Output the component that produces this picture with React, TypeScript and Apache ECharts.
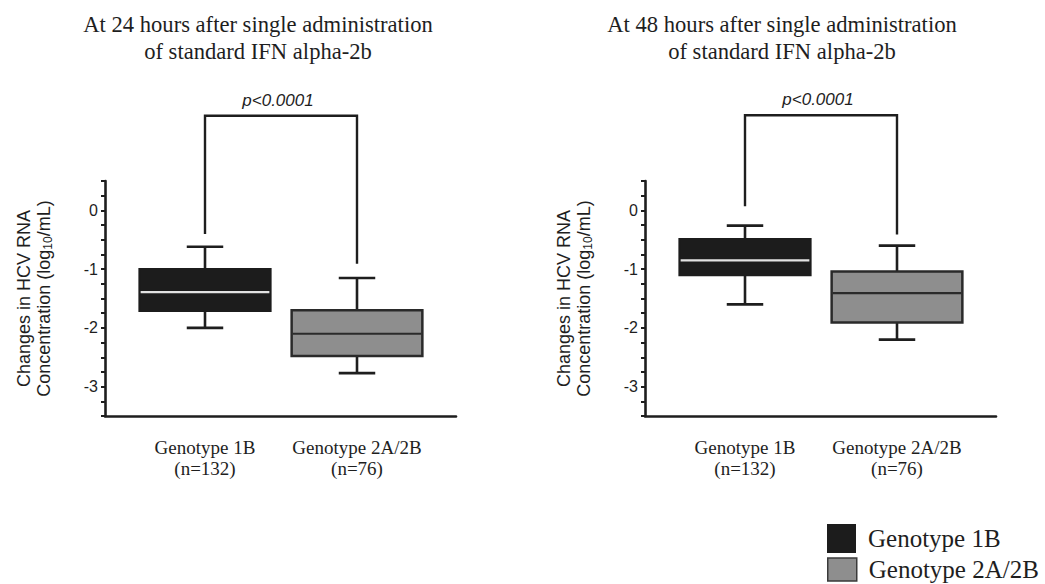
import React, { useEffect, useRef } from "react";
import * as echarts from "echarts";

// ---- data ----
const categories = ["Genotype 1B\n(n=132)", "Genotype 2A/2B\n(n=76)"];
const seriesNames = ["Genotype 1B", "Genotype 2A/2B"];
const titles = [
  "At 24 hours after single administration\nof standard IFN alpha-2b",
  "At 48 hours after single administration\nof standard IFN alpha-2b",
];
// [min, Q1, median, Q3, max]
const h24Genotype1B = [-2.0, -1.71, -1.39, -1.0, -0.62];
const h24Genotype2A2B = [-2.77, -2.48, -2.1, -1.7, -1.15];
const h48Genotype1B = [-1.6, -1.1, -0.85, -0.49, -0.26];
const h48Genotype2A2B = [-2.2, -1.91, -1.41, -1.04, -0.6];
// [left leg end, right leg end, bracket top]
const bracket24 = [-0.4, -0.91, 1.61];
const bracket48 = [0.07, -0.41, 1.62];
const pLabel = "p<0.0001";
const yMin = -3.5;
const yMax = 0.5;
const yStep = 0.25;

const SERIF = "'Liberation Serif', 'DejaVu Serif', serif";
const SANS = "'Liberation Sans', Arial, sans-serif";
const INK = "#1e1e1e";
const DARK = "#1c1c1c";
const GRAY = "#8e8e8e";

const renderBox = (fill: string, edge: string, medianColor: string) =>
  (params: any, api: any) => {
    const x = api.value(0);
    const v = [1, 2, 3, 4, 5].map((i) => api.value(i));
    const pMin = api.coord([x, v[0]]);
    const pQ1 = api.coord([x, v[1]]);
    const pMed = api.coord([x, v[2]]);
    const pQ3 = api.coord([x, v[3]]);
    const pMax = api.coord([x, v[4]]);
    const band = api.size([1, 0])[0];
    const bw = band * 0.86;
    const cw = band * 0.24;
    const cx = pMin[0];
    const ws = { stroke: INK, lineWidth: 2.6 };
    return {
      type: "group",
      children: [
        { type: "line", shape: { x1: cx, y1: pMax[1], x2: cx, y2: pQ3[1] }, style: ws },
        { type: "line", shape: { x1: cx, y1: pQ1[1], x2: cx, y2: pMin[1] }, style: ws },
        { type: "line", shape: { x1: cx - cw / 2, y1: pMax[1], x2: cx + cw / 2, y2: pMax[1] }, style: ws },
        { type: "line", shape: { x1: cx - cw / 2, y1: pMin[1], x2: cx + cw / 2, y2: pMin[1] }, style: ws },
        {
          type: "rect",
          shape: { x: cx - bw / 2, y: pQ3[1], width: bw, height: pQ1[1] - pQ3[1] },
          style: { fill, stroke: edge, lineWidth: 2.5 },
        },
        {
          type: "line",
          shape: { x1: cx - bw / 2 + 1, y1: pMed[1], x2: cx + bw / 2 - 1, y2: pMed[1] },
          style: { stroke: medianColor, lineWidth: 2.2 },
        },
      ],
    };
  };

const renderBracket = (params: any, api: any) => {
  const pL = api.coord([api.value(0), api.value(2)]);
  const pR = api.coord([api.value(1), api.value(3)]);
  const pT = api.coord([api.value(0), api.value(4)]);
  const top = pT[1];
  return {
    type: "group",
    children: [
      {
        type: "polyline",
        shape: { points: [[pL[0], pL[1]], [pL[0], top], [pR[0], top], [pR[0], pR[1]]] },
        style: { stroke: INK, lineWidth: 2.4, fill: "none" },
      },
      {
        type: "text",
        x: (pL[0] + pR[0]) / 2 - 3,
        y: top - 7,
        style: {
          text: pLabel,
          fontSize: 17,
          fontStyle: "italic",
          fontFamily: SANS,
          fill: INK,
          align: "center",
          verticalAlign: "bottom",
        },
      },
    ],
  };
};

export default function App() {
  const ref = useRef<HTMLDivElement>(null);
  useEffect(() => {
    if (!ref.current) return;
    const chart = echarts.init(ref.current, null, { renderer: "svg" });

    const panels = [
      { axisLeft: 105, innerLeft: 129, titleX: 258, stats: [h24Genotype1B, h24Genotype2A2B], bracket: bracket24 },
      { axisLeft: 645, innerLeft: 669, titleX: 782, stats: [h48Genotype1B, h48Genotype2A2B], bracket: bracket48 },
    ];
    const gridTop = 181;
    const gridHeight = 235;

    const grid: any[] = [];
    const xAxis: any[] = [];
    const yAxis: any[] = [];
    const series: any[] = [];
    const title: any[] = [];

    panels.forEach((p, i) => {
      const gFrame = grid.length;
      grid.push({ left: p.axisLeft, top: gridTop, width: 351, height: gridHeight });
      const gInner = grid.length;
      grid.push({ left: p.innerLeft, top: gridTop, width: 304, height: gridHeight });

      title.push({
        text: titles[i],
        left: p.titleX,
        top: 11,
        textAlign: "center",
        padding: 0,
        textStyle: { fontFamily: SERIF, fontSize: 22.6, fontWeight: "normal", color: INK, lineHeight: 27 },
      });

      // frame axes
      xAxis.push({
        type: "value",
        gridIndex: gFrame,
        min: 0,
        max: 1,
        axisLine: { show: true, onZero: false, lineStyle: { color: INK, width: 2.6 } },
        axisTick: { show: false },
        axisLabel: { show: false },
        splitLine: { show: false },
      });
      yAxis.push({
        type: "value",
        gridIndex: gFrame,
        min: yMin,
        max: yMax,
        interval: yStep,
        name: "Changes in HCV RNA\nConcentration (log{s|10}/mL)",
        nameLocation: "middle",
        nameGap: 51,
        nameTextStyle: {
          fontFamily: SANS,
          fontSize: 18,
          lineHeight: 20,
          color: INK,
          rich: { s: { fontSize: 12, fontFamily: SANS, color: INK, verticalAlign: "bottom", lineHeight: 14 } },
        },
        axisLine: { show: true, onZero: false, lineStyle: { color: INK, width: 2.6 } },
        axisTick: { show: true, length: 4, interval: 0, lineStyle: { color: INK, width: 2 } },
        axisLabel: {
          interval: 0,
          margin: 7,
          fontFamily: SANS,
          fontSize: 16,
          color: INK,
          formatter: (v: number) => (Number.isInteger(v) && v <= 0 ? String(v) : ""),
        },
        splitLine: { show: false },
      });

      // inner axes (category positions)
      const xi = xAxis.length;
      xAxis.push({
        type: "category",
        gridIndex: gInner,
        data: categories,
        axisLine: { show: false },
        axisTick: { show: false },
        axisLabel: {
          interval: 0,
          margin: 21,
          fontFamily: SERIF,
          fontSize: 19,
          lineHeight: 21,
          color: INK,
        },
        splitLine: { show: false },
      });
      const yi = yAxis.length;
      yAxis.push({
        type: "value",
        gridIndex: gInner,
        min: yMin,
        max: yMax,
        interval: yStep,
        show: false,
        splitLine: { show: false },
      });

      p.stats.forEach((s, k) => {
        series.push({
          type: "custom",
          name: seriesNames[k],
          xAxisIndex: xi,
          yAxisIndex: yi,
          silent: true,
          clip: false,
          itemStyle: k === 0 ? { color: DARK } : { color: GRAY, borderColor: "#3a3a3a", borderWidth: 1.5 },
          encode: { x: 0, y: [1, 2, 3, 4, 5] },
          data: [[k, ...s]],
          renderItem: k === 0 ? renderBox(DARK, DARK, "#e2e2e2") : renderBox(GRAY, "#2a2a2a", "#2a2a2a"),
        });
      });
      series.push({
        type: "custom",
        xAxisIndex: xi,
        yAxisIndex: yi,
        silent: true,
        clip: false,
        encode: { x: [0, 1], y: [2, 3, 4] },
        data: [[0, 1, ...p.bracket]],
        renderItem: renderBracket,
      });
    });

    const legendBase = {
      orient: "vertical",
      left: 827,
      padding: 0,
      itemWidth: 29,
      selectedMode: false,
      icon: "rect",
    };

    chart.setOption({
      animation: false,
      backgroundColor: "#ffffff",
      title,
      grid,
      xAxis,
      yAxis,
      series,
      legend: [
        {
          ...legendBase,
          top: 524,
          itemHeight: 29,
          textStyle: { fontFamily: SERIF, fontSize: 25, lineHeight: 26, color: INK, padding: [0, 0, 0, 7] },
          data: [{ name: seriesNames[0], itemStyle: { color: DARK } }],
        },
        {
          ...legendBase,
          top: 557,
          itemHeight: 23,
          textStyle: { fontFamily: SERIF, fontSize: 25, lineHeight: 24, color: INK, padding: [0, 0, 0, 7] },
          data: [{ name: seriesNames[1], itemStyle: { color: GRAY, borderColor: "#3a3a3a", borderWidth: 1.5 } }],
        },
      ],
    });
    return () => chart.dispose();
  }, []);

  return (
    <div
      ref={ref}
      style={{ position: "absolute", left: 0, top: 0, width: 1045, height: 584, background: "#fff" }}
    />
  );
}
